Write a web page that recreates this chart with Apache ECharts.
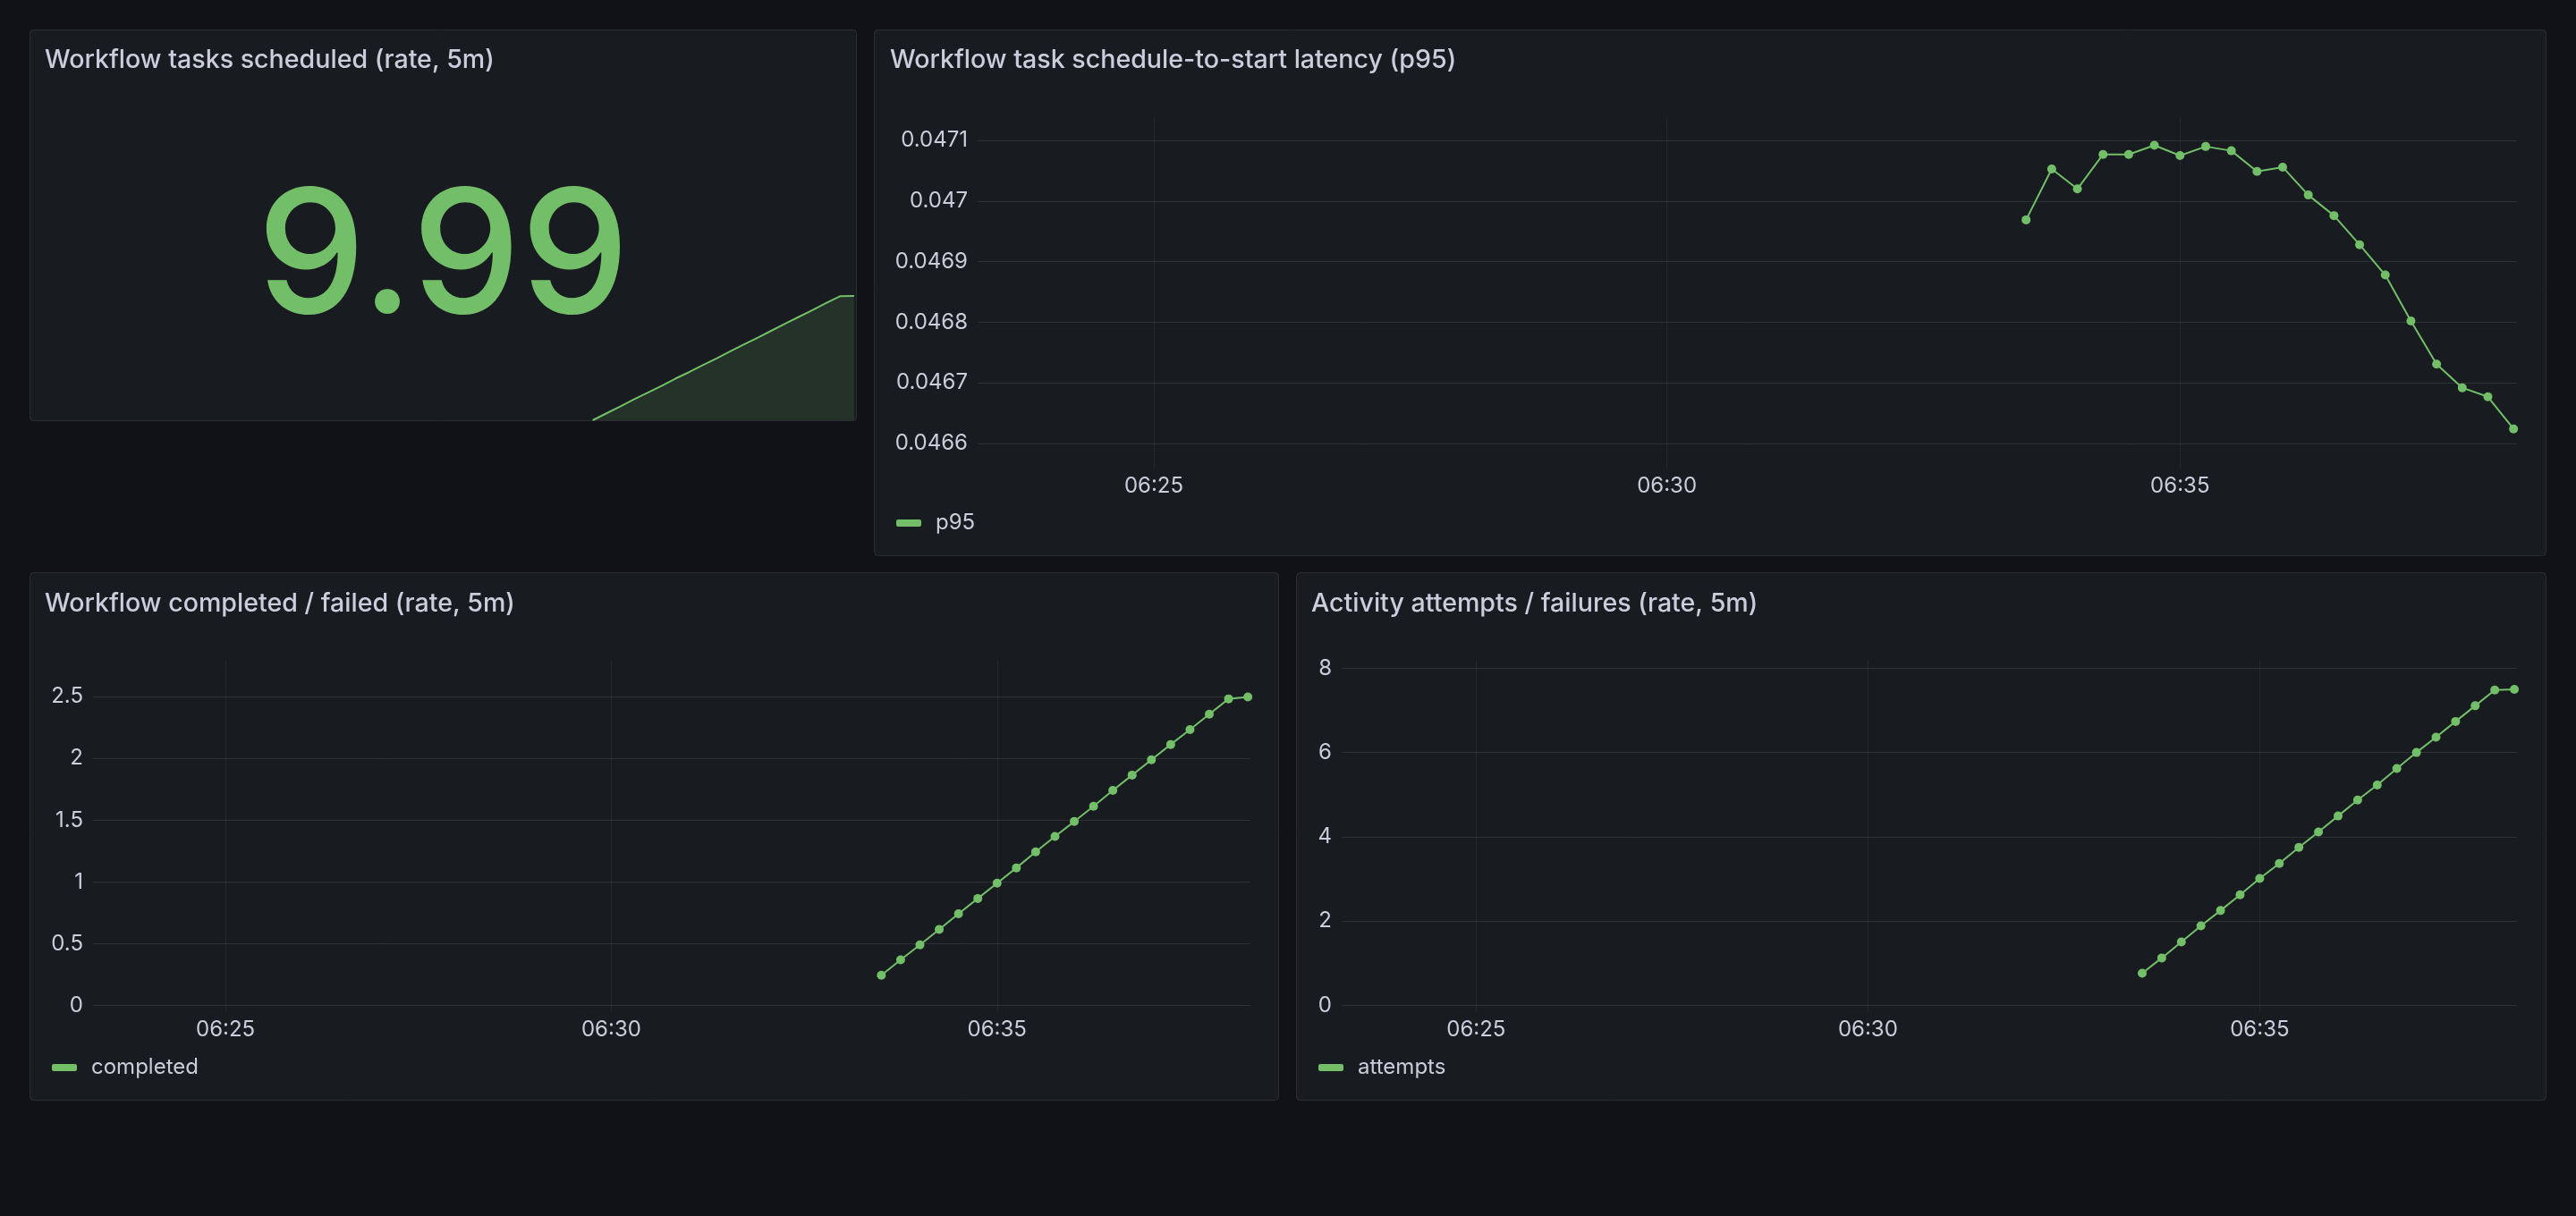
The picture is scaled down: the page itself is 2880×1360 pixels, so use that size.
<!DOCTYPE html>
<html>
<head>
<meta charset="utf-8">
<title>Workflow metrics</title>
<script src="https://cdn.jsdelivr.net/npm/echarts@6/dist/echarts.min.js"></script>
<style>
  html, body { margin: 0; padding: 0; background: #111217; }
  #chart { width: 2880px; height: 1360px; }
</style>
</head>
<body>
<div id="chart"></div>
<script>
// 15s samples, dashboard window is the last 15 minutes
const sampleTimes = [
  "06:33:30", "06:33:45", "06:34:00", "06:34:15", "06:34:30", "06:34:45", "06:35:00",
  "06:35:15", "06:35:30", "06:35:45", "06:36:00", "06:36:15", "06:36:30", "06:36:45",
  "06:37:00", "06:37:15", "06:37:30", "06:37:45", "06:38:00", "06:38:15"
];
const windowStart = "06:23:17";
const windowEnd = "06:38:17";

const scheduledRate = [
  1.02, 1.52, 2.01, 2.53, 3.01, 3.5, 4.02, 4.49, 5.0, 5.48,
  5.99, 6.5, 6.98, 7.49, 8.0, 8.49, 8.98, 9.5, 9.98, 9.99
];
const scheduledLast = 9.99;

const p95Latency = [
  0.046969, 0.047053, 0.04702, 0.047077, 0.047077, 0.047092, 0.047075, 0.04709, 0.047083, 0.047049,
  0.047056, 0.04701, 0.046976, 0.046928, 0.046878, 0.046802, 0.046731, 0.046692, 0.046677, 0.046624
];
const completedRate = [
  0.245, 0.369, 0.491, 0.615, 0.742, 0.866, 0.99, 1.114, 1.244, 1.368,
  1.489, 1.613, 1.741, 1.865, 1.989, 2.113, 2.234, 2.358, 2.482, 2.497
];
const attemptsRate = [
  0.762, 1.126, 1.506, 1.887, 2.251, 2.623, 3.013, 3.368, 3.749, 4.113,
  4.494, 4.874, 5.229, 5.619, 6.0, 6.364, 6.736, 7.108, 7.481, 7.498
];

const panelTitles = [
  "Workflow tasks scheduled (rate, 5m)",
  "Workflow task schedule-to-start latency (p95)",
  "Workflow completed / failed (rate, 5m)",
  "Activity attempts / failures (rate, 5m)"
];
const seriesNames = ["p95", "completed", "attempts"];

// y ranges as grafana auto-scaled them
const p95Extent = [0.0465587, 0.0471385];
const completedExtent = [-0.054, 2.798];
const attemptsExtent = [-0.159, 8.197];

const GREEN = "#73bf69";
const TEXT = "#ccccdc";
const FONT = "Inter";

function toTs(hms) {
  const [h, m, s] = hms.split(":").map(Number);
  return new Date(2024, 0, 1, h, m, s).getTime();
}
const sampleTs = sampleTimes.map(toTs);
const startTs = toTs(windowStart);
const endTs = toTs(windowEnd);

function pad(n) {
  return String(n).padStart(2, "0");
}

function points(values) {
  return values.map((v, i) => [sampleTs[i], v]);
}

function timeAxis(gridIndex, show) {
  return {
    type: "time",
    gridIndex,
    show,
    min: startTs,
    max: endTs,
    minInterval: 6 * 60 * 1000,
    maxInterval: 6 * 60 * 1000,
    axisLine: { show: false },
    axisTick: { show: false },
    axisLabel: {
      color: TEXT,
      fontSize: 24,
      fontFamily: FONT,
      margin: 8,
      formatter: (val) => {
        const d = new Date(val);
        return pad(d.getHours()) + ":" + pad(d.getMinutes());
      },
    },
    splitLine: {
      show: true,
      showMinLine: false,
      showMaxLine: false,
      lineStyle: { color: "rgba(204,204,220,0.07)", width: 1 },
    },
  };
}

function valueAxis(gridIndex, extent) {
  return {
    type: "value",
    gridIndex,
    min: extent[0],
    max: extent[1],
    axisLine: { show: false },
    axisTick: { show: false },
    axisLabel: {
      color: TEXT,
      fontSize: 24,
      fontFamily: FONT,
      margin: 11,
      showMinLabel: false,
      showMaxLabel: false,
    },
    splitLine: {
      show: true,
      showMinLine: false,
      showMaxLine: false,
      lineStyle: { color: "rgba(204,204,220,0.12)", width: 1 },
    },
  };
}

function lineSeries(name, values, idx) {
  return {
    name,
    type: "line",
    xAxisIndex: idx,
    yAxisIndex: idx,
    data: points(values),
    symbol: "circle",
    symbolSize: 10,
    showSymbol: true,
    showAllSymbol: true,
    lineStyle: { color: GREEN, width: 2 },
    itemStyle: { color: GREEN },
  };
}

const panels = [
  { x: 33, y: 33, w: 925, h: 438 },
  { x: 977, y: 33, w: 1870, h: 589 },
  { x: 33, y: 640, w: 1397, h: 591 },
  { x: 1449, y: 640, w: 1398, h: 591 },
];
const titlePos = [
  { left: 50, top: 53 },
  { left: 995, top: 53 },
  { left: 50, top: 661 },
  { left: 1466, top: 661 },
];

const chart = echarts.init(document.getElementById("chart"));

chart.setOption({
  backgroundColor: "#111217",
  animation: false,
  title: panelTitles.map((text, i) => ({
    text,
    left: titlePos[i].left,
    top: titlePos[i].top,
    padding: 0,
    textStyle: { color: TEXT, fontSize: 28.6, fontWeight: 500, fontFamily: FONT },
  })),
  legend: [
    { data: [seriesNames[0]], left: 1002, top: 573 },
    { data: [seriesNames[1]], left: 58, top: 1182 },
    { data: [seriesNames[2]], left: 1474, top: 1182 },
  ].map((l) => ({
    ...l,
    padding: 0,
    icon: "roundRect",
    itemWidth: 28,
    itemHeight: 8,
    selectedMode: false,
    textStyle: { color: TEXT, fontSize: 24, fontFamily: FONT, padding: [0, 0, 0, 11] },
  })),
  graphic: [
    ...panels.map((p) => ({
      type: "rect",
      z: -10,
      silent: true,
      shape: { x: p.x + 0.5, y: p.y + 0.5, width: p.w - 1, height: p.h - 1, r: 4 },
      style: { fill: "#181b1f", stroke: "rgba(204,204,220,0.12)", lineWidth: 1 },
    })),
    {
      type: "text",
      z: 10,
      silent: true,
      x: 495.5,
      y: 292,
      style: {
        text: scheduledLast.toFixed(2),
        fill: GREEN,
        font: "500 193px Inter",
        align: "center",
        verticalAlign: "middle",
      },
    },
  ],
  grid: [
    { left: 34, top: 331, width: 923, height: 139 },
    { left: 1093, top: 131, width: 1721, height: 393 },
    { left: 104, top: 738, width: 1294, height: 394 },
    { left: 1500, top: 738, width: 1314, height: 394 },
  ],
  xAxis: [timeAxis(0, false), timeAxis(1, true), timeAxis(2, true), timeAxis(3, true)],
  yAxis: [
    { type: "value", gridIndex: 0, show: false, min: "dataMin", max: "dataMax" },
    valueAxis(1, p95Extent),
    valueAxis(2, completedExtent),
    valueAxis(3, attemptsExtent),
  ],
  series: [
    {
      name: "scheduled",
      type: "line",
      xAxisIndex: 0,
      yAxisIndex: 0,
      data: points(scheduledRate),
      symbol: "none",
      silent: true,
      lineStyle: { color: GREEN, width: 2 },
      itemStyle: { color: GREEN },
      areaStyle: { color: "rgba(115,191,105,0.2)", origin: "start" },
    },
    lineSeries(seriesNames[0], p95Latency, 1),
    lineSeries(seriesNames[1], completedRate, 2),
    lineSeries(seriesNames[2], attemptsRate, 3),
  ],
});
</script>
</body>
</html>
